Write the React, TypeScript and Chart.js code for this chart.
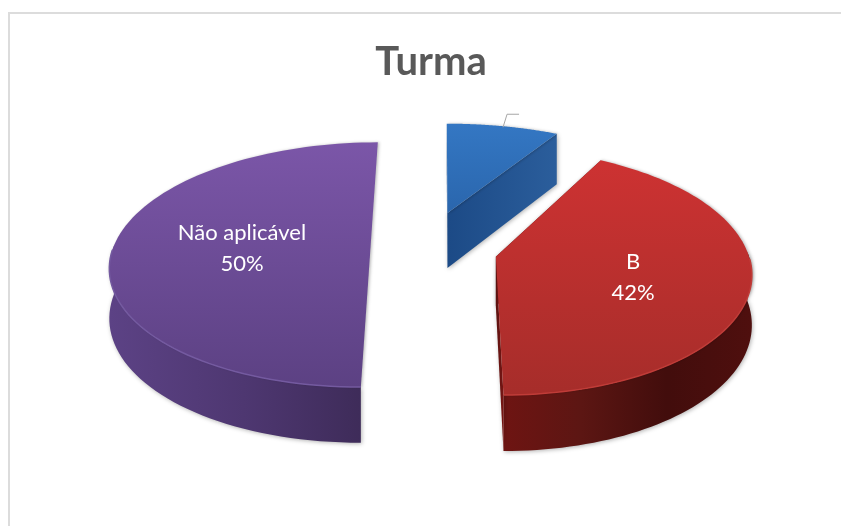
import React, { useEffect, useRef } from "react";
import { Chart, registerables } from "chart.js";

Chart.register(...registerables);

const title = "Turma";
const categories = ["", "B", "Não aplicável"];
const values = [8, 42, 50];

// Ground-plane to screen perspective (camera) settings
const CX = 440, CY = 250, A = 258, B = 120.6, P = 0.12;
// Per-slice styling: explosion in plane units, radius factors, thickness, colours
const explode = [[0.03, -0.318], [0.215, 0.056], [-0.27, 0]];
const radiusU = [1.0, 0.975, 1];
const radiusV = [0.88, 0.995, 1];
const thickness = [57, 49, 49];
const showCutFaces = [true, true, false];
const topStops = [["#3477c3", "#2a66ad"], ["#cd3232", "#a62d2a"], ["#7b56a8", "#5c4183"]];
const wallStops = [
  ["#1d4a85", "#2a5b9a"],
  ["#701412", "#5c1613", "#420d0c", "#4f0f0e"],
  ["#5c4285", "#4e3771", "#3c2a56"],
];
const faceColors = [["#1c4a86", "#2b5e9c"], ["#5c1210", "#7c1614"], ["#3e2b58", "#3e2b58"]];
const rimColors = ["#3a78c0", "#c03c38", "#745aa0"];
const labelAnchors = [null, [633, 262], [242, 233]];

const project = (U: number, V: number) => {
  const w = 1 - P * V;
  return { x: CX + (A * U) / w, y: CY + (B * V) / w, w };
};

const pie3d = {
  id: "pie3d",
  beforeDatasetDraw(chart: any) {
    const ctx: CanvasRenderingContext2D = chart.ctx;
    const arcs = chart.getDatasetMeta(0).data;
    const pt = (i: number, ang: number, r = 1) =>
      project(
        explode[i][0] + r * radiusU[i] * Math.cos(ang),
        explode[i][1] + r * radiusV[i] * Math.sin(ang)
      );
    const sample = (i: number, a0: number, a1: number) => {
      const out = [];
      for (let k = 0; k <= 90; k++) {
        const a = a0 + ((a1 - a0) * k) / 90;
        out.push({ ...pt(i, a), a });
      }
      return out;
    };
    const hGrad = (x0: number, x1: number, stops: string[]) => {
      const g = ctx.createLinearGradient(x0, 0, x1, 0);
      stops.forEach((c, k) => g.addColorStop(k / (stops.length - 1), c));
      return g;
    };
    arcs.forEach((arc: any, i: number) => {
      const { startAngle, endAngle } = arc.getProps(["startAngle", "endAngle"], true);
      const rim = sample(i, startAngle, endAngle);
      const apex = pt(i, 0, 0);
      const D = thickness[i];
      const xs = rim.map((p) => p.x);
      const minX = Math.min(...xs, apex.x);
      const maxX = Math.max(...xs, apex.x);
      const quad = (p: any, q: any, fill: any) => {
        ctx.beginPath();
        ctx.moveTo(p.x, p.y);
        ctx.lineTo(q.x, q.y);
        ctx.lineTo(q.x, q.y + D / q.w);
        ctx.lineTo(p.x, p.y + D / p.w);
        ctx.closePath();
        ctx.fillStyle = fill;
        ctx.fill();
      };
      ctx.save();
      ctx.shadowColor = "rgba(0,0,0,0.3)";
      ctx.shadowBlur = 4;
      ctx.shadowOffsetX = 1;
      ctx.shadowOffsetY = 1;
      // outer wall: only the part that faces the viewer
      const front = rim.filter((p) => Math.sin(p.a) > -0.05);
      if (front.length > 1) {
        ctx.beginPath();
        front.forEach((p, k) => (k ? ctx.lineTo(p.x, p.y) : ctx.moveTo(p.x, p.y)));
        [...front].reverse().forEach((p) => ctx.lineTo(p.x, p.y + D / p.w));
        ctx.closePath();
        ctx.fillStyle = hGrad(minX, maxX, wallStops[i]);
        ctx.fill();
      }
      // cut faces
      const first = rim[0];
      const last = rim[rim.length - 1];
      if (showCutFaces[i]) {
        quad(first, apex, hGrad(Math.min(first.x, apex.x), Math.max(first.x, apex.x) + 1, faceColors[i]));
        quad(last, apex, hGrad(Math.min(last.x, apex.x), Math.max(last.x, apex.x) + 1, faceColors[i]));
      }
      ctx.restore();
      // top face
      const ys = rim.map((p) => p.y);
      const g = ctx.createLinearGradient(0, Math.min(...ys), 0, Math.max(...ys, apex.y));
      g.addColorStop(0, topStops[i][0]);
      g.addColorStop(1, topStops[i][1]);
      ctx.save();
      ctx.shadowColor = "rgba(0,0,0,0.25)";
      ctx.shadowBlur = 3;
      ctx.shadowOffsetX = 1.5;
      ctx.beginPath();
      ctx.moveTo(apex.x, apex.y);
      rim.forEach((p) => ctx.lineTo(p.x, p.y));
      ctx.closePath();
      ctx.fillStyle = g;
      ctx.fill();
      ctx.restore();
      // soft highlight along the visible rim
      ctx.beginPath();
      let pen = false;
      rim.forEach((p) => {
        if (Math.sin(p.a) > 0) {
          if (pen) ctx.lineTo(p.x, p.y);
          else ctx.moveTo(p.x, p.y);
          pen = true;
        }
      });
      ctx.strokeStyle = rimColors[i];
      ctx.lineWidth = 1.5;
      ctx.stroke();
    });
    // leader line of the smallest slice
    const lead = arcs[0].getProps(["startAngle", "endAngle"], true);
    const s = pt(0, (lead.startAngle + lead.endAngle) / 2);
    ctx.beginPath();
    ctx.moveTo(s.x, s.y + 1);
    ctx.lineTo(s.x + 4, s.y - 12);
    ctx.lineTo(s.x + 16, s.y - 12);
    ctx.strokeStyle = "#a6a6a6";
    ctx.lineWidth = 1;
    ctx.stroke();
    // data labels
    const total = values.reduce((a, b) => a + b, 0);
    ctx.fillStyle = "#ffffff";
    ctx.font = '22px "Lato"';
    ctx.textAlign = "center";
    ctx.textBaseline = "middle";
    categories.forEach((c, i) => {
      const at = labelAnchors[i];
      if (!at) return;
      ctx.fillText(c, at[0], at[1]);
      ctx.fillText(Math.round((values[i] / total) * 100) + "%", at[0], at[1] + 31);
    });
    return false;
  },
};

export default function App() {
  const ref = useRef<HTMLCanvasElement>(null);
  useEffect(() => {
    const chart = new Chart(ref.current as HTMLCanvasElement, {
      type: "pie",
      data: {
        labels: categories,
        datasets: [{ data: values, backgroundColor: ["#3477c3", "#cd3232", "#7b56a8"], borderWidth: 0 }],
      },
      options: {
        animation: false,
        responsive: false,
        layout: { padding: { left: 21, top: 38 } },
        plugins: {
          legend: { display: false },
          tooltip: { enabled: false },
          title: {
            display: true,
            text: title,
            color: "#595959",
            font: { family: "Lato", size: 40, weight: "bold" },
            padding: 0,
          },
        },
      },
      plugins: [pie3d],
    } as any);
    return () => chart.destroy();
  }, []);
  return (
    <div style={{ position: "fixed", left: 0, top: 0, width: 841, height: 526, background: "#fff", overflow: "hidden" }}>
      <div style={{ position: "absolute", left: 8, top: 12, width: 900, height: 600, border: "2px solid #dcdcdc" }} />
      <canvas ref={ref} width={841} height={526} style={{ position: "absolute", left: 0, top: 0 }} />
    </div>
  );
}
